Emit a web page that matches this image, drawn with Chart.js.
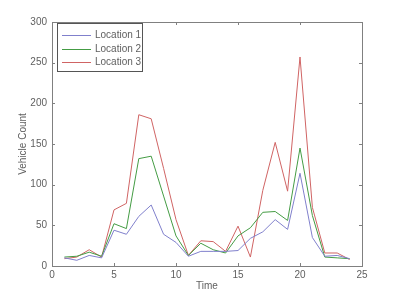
<!DOCTYPE html>
<html>
<head>
<meta charset="utf-8">
<script src="https://cdn.jsdelivr.net/npm/chart.js@4"></script>
<style>
  html, body { margin: 0; padding: 0; background: #fff; }
  #wrap { width: 400px; height: 300px; }
</style>
</head>
<body>
<div id="wrap"><canvas id="trafficChart" width="400" height="300"></canvas></div>
<script>
var time = [1, 2, 3, 4, 5, 6, 7, 8, 9, 10, 11, 12, 13, 14, 15, 16, 17, 18, 19, 20, 21, 22, 23, 24];
var location1 = [10, 7, 13, 10, 44, 39, 61, 75, 39, 29, 12, 18, 18, 18, 19, 34, 42, 57, 45, 114, 35, 12, 13, 9];
var location2 = [11, 12, 17, 12, 52, 46, 132, 135, 86, 37, 13, 28, 20, 16, 37, 47, 66, 67, 56, 145, 62, 11, 10, 9];
var location3 = [9, 11, 20, 11, 69, 77, 186, 181, 120, 57, 13, 31, 30, 18, 49, 11, 93, 152, 92, 257, 72, 16, 16, 8];
var seriesNames = ['Location 1', 'Location 2', 'Location 3'];
var seriesColors = ['#8080cc', '#449c44', '#d06464'];

function toPoints(vals) {
    return vals.map(function (v, i) { return { x: time[i], y: v }; });
}

var font = { family: 'Liberation Sans, Arial, sans-serif', size: 10 };
var textColor = '#606060';

// box around the plot with inward ticks on all four sides, like matlab
var boxPlugin = {
    id: 'boxPlugin',
    afterDatasetsDraw: function (chart) {
        var c = chart.ctx, a = chart.chartArea;
        var xs = chart.scales.x, ys = chart.scales.y;
        c.save();
        c.strokeStyle = '#808080';
        c.lineWidth = 1;
        c.strokeRect(Math.round(a.left) + 0.5, Math.round(a.top) + 0.5,
            Math.round(a.right - a.left), Math.round(a.bottom - a.top));
        c.beginPath();
        xs.ticks.forEach(function (t) {
            var px = Math.round(xs.getPixelForValue(t.value)) + 0.5;
            c.moveTo(px, a.bottom); c.lineTo(px, a.bottom - 3);
            c.moveTo(px, a.top); c.lineTo(px, a.top + 3);
        });
        ys.ticks.forEach(function (t) {
            var py = Math.round(ys.getPixelForValue(t.value)) + 0.5;
            c.moveTo(a.left, py); c.lineTo(a.left + 3, py);
            c.moveTo(a.right, py); c.lineTo(a.right - 3, py);
        });
        c.stroke();

        // legend box in the top left corner
        var lx = a.left + 5, ly = a.top + 1, lw = 85, lh = 48;
        c.fillStyle = '#fff';
        c.fillRect(lx, ly, lw, lh);
        c.strokeStyle = '#555';
        c.strokeRect(Math.round(lx) + 0.5, Math.round(ly) + 0.5, lw, lh);
        c.font = font.size + 'px ' + font.family;
        c.textBaseline = 'middle';
        chart.data.datasets.forEach(function (ds, i) {
            var yy = Math.round(ly + 12 + i * 13.5) + 0.5;
            c.strokeStyle = ds.borderColor;
            c.beginPath();
            c.moveTo(lx + 5, yy); c.lineTo(lx + 34, yy);
            c.stroke();
            c.fillStyle = textColor;
            c.fillText(ds.label, lx + 38, yy);
        });
        c.restore();
    }
};

var ctx = document.getElementById('trafficChart').getContext('2d');
var chart = new Chart(ctx, {
    type: 'line',
    data: {
        datasets: [location1, location2, location3].map(function (vals, i) {
            return {
                label: seriesNames[i],
                data: toPoints(vals),
                borderColor: seriesColors[i],
                borderWidth: 1,
                pointRadius: 0,
                tension: 0,
                fill: false
            };
        })
    },
    options: {
        responsive: false,
        animation: false,
        layout: { padding: { left: 13, right: 38, top: 22, bottom: 0 } },
        plugins: {
            legend: { display: false },
            tooltip: { enabled: false }
        },
        scales: {
            x: {
                type: 'linear',
                min: 0,
                max: 25,
                ticks: { stepSize: 5, color: textColor, font: font, padding: 3 },
                grid: { display: false, drawTicks: false },
                border: { display: false },
                title: { display: true, text: 'Time', color: textColor, font: font, padding: { top: 1, bottom: 8 } },
                afterFit: function (s) { s.height = 34; }
            },
            y: {
                min: 0,
                max: 300,
                ticks: { stepSize: 50, color: textColor, font: font, padding: 5 },
                grid: { display: false, drawTicks: false },
                border: { display: false },
                title: { display: true, text: 'Vehicle Count', color: textColor, font: font },
                afterFit: function (s) { s.width = 39; }
            }
        }
    },
    plugins: [boxPlugin]
});
</script>
</body>
</html>
